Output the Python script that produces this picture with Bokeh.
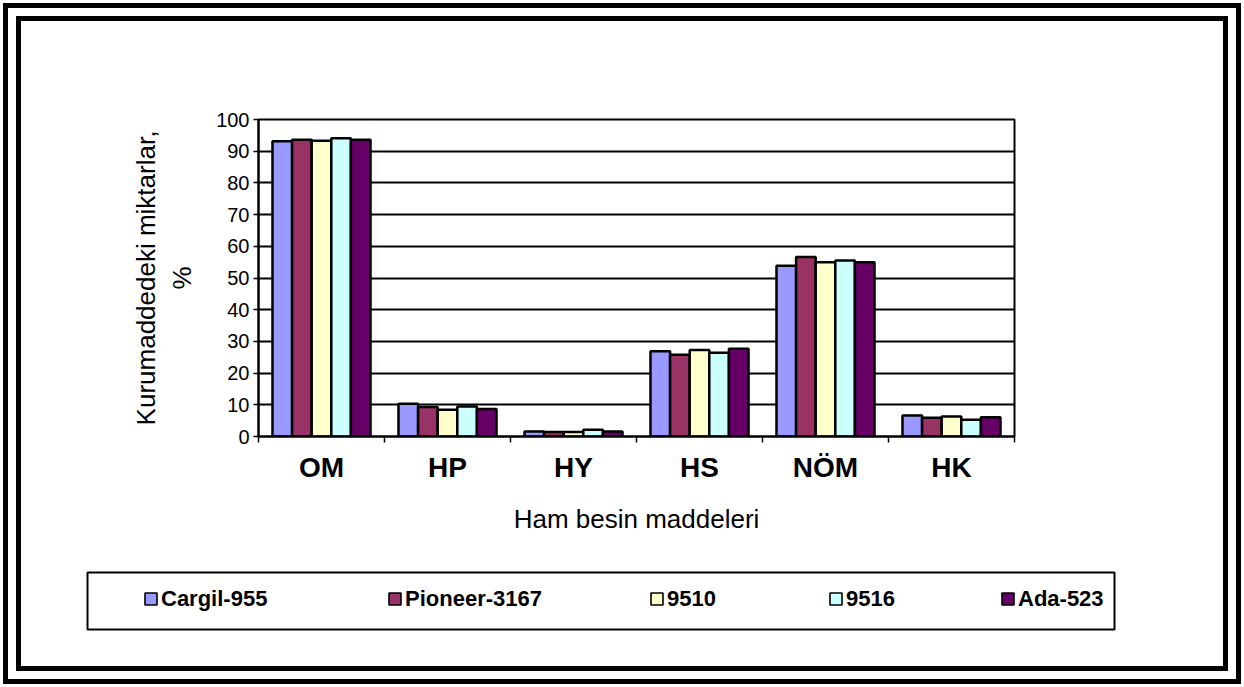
import numpy as np
from bokeh.plotting import figure
from bokeh.layouts import column
from bokeh.models import (ColumnDataSource, FixedTicker, LinearAxis, Range1d,
                          Legend, LegendItem, Grid, BoxAnnotation)
from bokeh.embed import file_html
from bokeh.resources import INLINE

# Nutrient groups on the x axis
categories = ["OM", "HP", "HY", "HS", "NÖM", "HK"]

# Maize varieties (one bar per variety in each group)
varieties = ["Cargil-955", "Pioneer-3167", "9510", "9516", "Ada-523"]

# Dry-matter content, %
cargil_955 = [93.1, 10.3, 1.6, 26.9, 53.9, 6.6]
pioneer_3167 = [93.6, 9.3, 1.4, 25.8, 56.6, 5.9]
v9510 = [93.3, 8.4, 1.4, 27.3, 55.0, 6.3]
v9516 = [94.1, 9.5, 2.1, 26.4, 55.5, 5.3]
ada_523 = [93.6, 8.7, 1.6, 27.7, 55.0, 6.1]

series = [cargil_955, pioneer_3167, v9510, v9516, ada_523]
colors = ["#9999FF", "#993366", "#FFFFCC", "#CCFFFF", "#660066"]

y_ticks = list(range(0, 101, 10))

FONT = "Liberation Sans"
W, H = 1244, 687
CHART_H = 560              # upper part: the bar chart
LEG_H = H - CHART_H        # lower part: the legend row
FRAME_L, FRAME_T, FRAME_B, FRAME_R = 258, 119, 436, 1014

p = figure(width=W, height=CHART_H,
           x_range=Range1d(0, len(categories)), y_range=Range1d(0, 100),
           x_axis_type=None, y_axis_type=None,
           output_backend="svg", toolbar_location=None,
           min_border_left=FRAME_L, min_border_right=W - FRAME_R,
           min_border_top=FRAME_T, min_border_bottom=CHART_H - FRAME_B)
p.background_fill_color = "white"
p.border_fill_alpha = 0
p.outline_line_color = "black"
p.outline_line_width = 2

# Value axis
yaxis = LinearAxis(ticker=FixedTicker(ticks=y_ticks, minor_ticks=[]))
yaxis.axis_line_width = 2
yaxis.major_tick_out = 5
yaxis.major_tick_in = 0
yaxis.minor_tick_out = 0
yaxis.major_tick_line_width = 1.5
yaxis.major_label_text_font = FONT
yaxis.major_label_text_font_size = "20px"
yaxis.major_label_text_color = "black"
yaxis.major_label_standoff = 4
yaxis.axis_label = "Kurumaddedeki miktarlar,\n%"
yaxis.axis_label_text_font = FONT
yaxis.axis_label_text_font_size = "26px"
yaxis.axis_label_text_font_style = "normal"
yaxis.axis_label_text_color = "black"
yaxis.axis_label_standoff = 16
p.add_layout(yaxis, "left")

p.add_layout(Grid(dimension=1, ticker=yaxis.ticker,
                  grid_line_color="black", grid_line_width=2))

# Category axis: labels at group centres, tick marks at group boundaries
centres = [i + 0.5 for i in range(len(categories))]
bounds = list(range(len(categories) + 1))
xaxis = LinearAxis(ticker=FixedTicker(ticks=centres, minor_ticks=bounds))
xaxis.major_label_overrides = {c: name for c, name in zip(centres, categories)}
xaxis.axis_line_width = 2
xaxis.major_tick_out = 0
xaxis.major_tick_in = 0
xaxis.minor_tick_out = 6
xaxis.minor_tick_in = 0
xaxis.minor_tick_line_width = 1.5
xaxis.major_label_text_font = FONT
xaxis.major_label_text_font_size = "28px"
xaxis.major_label_text_font_style = "bold"
xaxis.major_label_text_color = "black"
xaxis.major_label_standoff = 9
xaxis.axis_label = "Ham besin maddeleri"
xaxis.axis_label_text_font = FONT
xaxis.axis_label_text_font_size = "26px"
xaxis.axis_label_text_font_style = "normal"
xaxis.axis_label_text_color = "black"
xaxis.axis_label_standoff = 18
p.add_layout(xaxis, "below")

# Grouped bars
bar_w = 0.1556
for k, (vals, col) in enumerate(zip(series, colors)):
    xs = [c + (k - 2) * bar_w for c in centres]
    src = ColumnDataSource(dict(x=xs, top=vals))
    p.vbar(x="x", top="top", width=bar_w, bottom=0, source=src,
           fill_color=col, line_color="black", line_width=2.5)

# Legend row: a strip whose frame spans the whole strip, in pixel units
leg = figure(width=W, height=LEG_H,
             x_range=Range1d(0, W), y_range=Range1d(LEG_H, 0),
             x_axis_type=None, y_axis_type=None,
             output_backend="svg", toolbar_location=None,
             min_border=0)
leg.background_fill_alpha = 0
leg.border_fill_alpha = 0
leg.outline_line_color = None
leg.xgrid.visible = False
leg.ygrid.visible = False

# keep each figure's frame independent inside the column
for fig in (p, leg):
    if "frame_align" in fig.properties():
        fig.frame_align = False

leg.add_layout(BoxAnnotation(left=87, right=1114, top=572 - CHART_H, bottom=629 - CHART_H,
                             left_units="canvas", right_units="canvas",
                             top_units="canvas", bottom_units="canvas",
                             fill_alpha=0, line_color="black", line_alpha=1,
                             line_width=2))

item_x = [143, 387, 649, 828, 1000]
ITEM_H = 26
item_bottom = 598.5 + ITEM_H / 2 - CHART_H
for name, col, lx in zip(varieties, colors, item_x):
    # swatch-only renderer: its one row has no position, so only the legend shows it
    swatch = leg.vbar(x=np.array([np.nan]), top=np.array([1.0]), bottom=0, width=1,
                      fill_color=col, line_color="black", line_width=1.6)
    lg = Legend(items=[LegendItem(label=name, renderers=[swatch])],
                location=(lx, LEG_H - item_bottom),
                glyph_width=15, glyph_height=15, label_standoff=3,
                label_height=ITEM_H, padding=0, margin=0, spacing=0,
                border_line_alpha=0, background_fill_alpha=0,
                label_text_font=FONT, label_text_font_size="22px",
                label_text_font_style="bold", label_text_color="black")
    leg.add_layout(lg)

page = column(p, leg, spacing=0)
# double page border drawn behind the transparent canvases
page.styles = {
    "background-color": "white",
    "box-shadow": ("inset 0 0 0 3px white, inset 0 0 0 8px black, "
                   "inset 0 0 0 16px white, inset 0 0 0 21px black"),
}

open("out.html", "w").write(file_html(page, INLINE))
